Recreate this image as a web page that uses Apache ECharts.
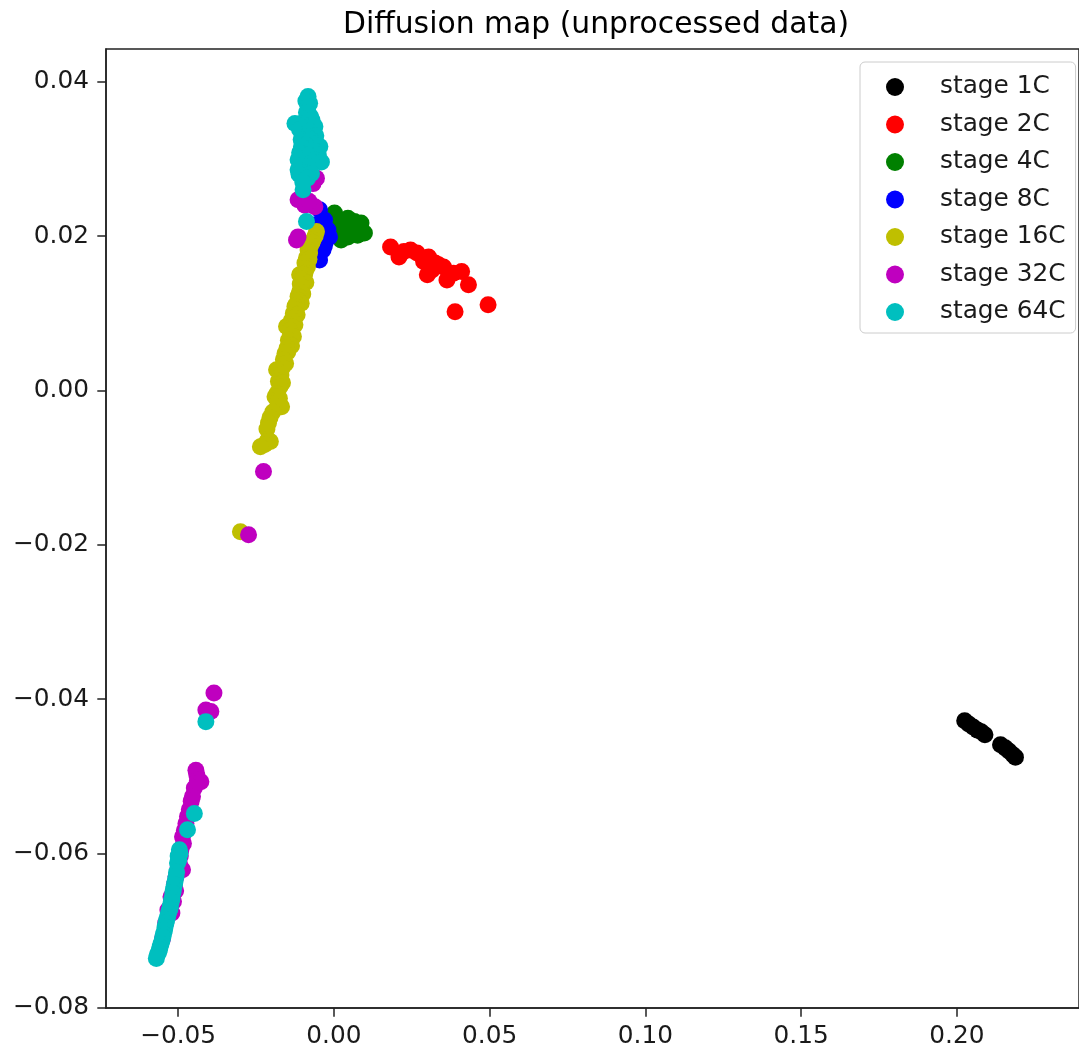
<!DOCTYPE html>
<html>
<head>
<meta charset="utf-8">
<script src="https://cdn.jsdelivr.net/npm/echarts@6/dist/echarts.min.js"></script>
<style>html,body{margin:0;padding:0;background:#fff}#chart{width:1079px;height:1051px}</style>
</head>
<body>
<div id="chart"></div>
<script>
const seriesNames = ['stage 1C','stage 2C','stage 4C','stage 8C','stage 16C','stage 32C','stage 64C'];
const seriesColors = ['#000000','#ff0000','#008000','#0000ff','#bfbf00','#bf00bf','#00bfbf'];
const xTicks = [-0.05, 0.00, 0.05, 0.10, 0.15, 0.20];
const yTicks = [-0.08, -0.06, -0.04, -0.02, 0.00, 0.02, 0.04];

const stage1C = [[0.2025,-0.0428],[0.2038,-0.0432],[0.2052,-0.0436],[0.2066,-0.0440],[0.2078,-0.0442],[0.2090,-0.0446],[0.2140,-0.0459],[0.2155,-0.0463],[0.2167,-0.0467],[0.2180,-0.0472],[0.2188,-0.0475]];
const stage2C = [[0.0182,0.0186],[0.0209,0.0173],[0.0225,0.0180],[0.0246,0.0182],[0.0267,0.0178],[0.0288,0.0167],[0.0304,0.0173],[0.0315,0.0156],[0.0325,0.0165],[0.0336,0.0163],[0.0352,0.0160],[0.0363,0.0143],[0.0384,0.0152],[0.0410,0.0154],[0.0432,0.0137],[0.0389,0.0102],[0.0495,0.0111],[0.0300,0.0150]];
const stage4C = [[0.0002,0.0230],[0.0023,0.0221],[0.0045,0.0223],[0.0066,0.0219],[0.0087,0.0217],[0.0098,0.0204],[0.0076,0.0201],[0.0045,0.0199],[0.0023,0.0195],[0.0013,0.0208],[0.0055,0.0210],[-0.0003,0.0217],[0.0034,0.0212]];
const stage8C = [[-0.0046,0.0234],[-0.0030,0.0221],[-0.0019,0.0208],[-0.0024,0.0195],[-0.0035,0.0182],[-0.0046,0.0169],[-0.0051,0.0178],[-0.0040,0.0204],[-0.0014,0.0199],[-0.0061,0.0195],[-0.0055,0.0215],[-0.0030,0.0188]];
const stage16C = [[-0.0056,0.0206],[-0.0060,0.0200],[-0.0067,0.0195],[-0.0070,0.0192],[-0.0075,0.0188],[-0.0083,0.0182],[-0.0078,0.0178],[-0.0088,0.0172],[-0.0080,0.0170],[-0.0093,0.0165],[-0.0085,0.0160],[-0.0090,0.0158],[-0.0093,0.0152],[-0.0110,0.0150],[-0.0097,0.0150],[-0.0100,0.0145],[-0.0104,0.0143],[-0.0090,0.0140],[-0.0108,0.0138],[-0.0104,0.0135],[-0.0110,0.0128],[-0.0100,0.0125],[-0.0115,0.0122],[-0.0112,0.0120],[-0.0115,0.0117],[-0.0105,0.0113],[-0.0120,0.0112],[-0.0125,0.0109],[-0.0122,0.0105],[-0.0130,0.0100],[-0.0118,0.0098],[-0.0128,0.0094],[-0.0136,0.0091],[-0.0125,0.0085],[-0.0152,0.0083],[-0.0133,0.0082],[-0.0141,0.0078],[-0.0138,0.0072],[-0.0130,0.0070],[-0.0146,0.0065],[-0.0143,0.0060],[-0.0136,0.0058],[-0.0150,0.0055],[-0.0148,0.0050],[-0.0157,0.0048],[-0.0162,0.0040],[-0.0155,0.0035],[-0.0165,0.0030],[-0.0184,0.0027],[-0.0170,0.0020],[-0.0178,0.0012],[-0.0165,0.0010],[-0.0173,0.0005],[-0.0183,-0.0004],[-0.0189,-0.0008],[-0.0175,-0.0010],[-0.0180,-0.0015],[-0.0168,-0.0021],[-0.0196,-0.0028],[-0.0205,-0.0035],[-0.0210,-0.0042],[-0.0215,-0.0050],[-0.0212,-0.0064],[-0.0204,-0.0066],[-0.0222,-0.0070],[-0.0236,-0.0073],[-0.0300,-0.0183]];
const stage32C = [[-0.0115,0.0199],[-0.0120,0.0195],[-0.0093,0.0240],[-0.0061,0.0238],[-0.0056,0.0275],[-0.0067,0.0268],[-0.0115,0.0247],[-0.0080,0.0245],[-0.0226,-0.0105],[-0.0274,-0.0187],[-0.0385,-0.0392],[-0.0395,-0.0416],[-0.0411,-0.0414],[-0.0443,-0.0492],[-0.0440,-0.0498],[-0.0438,-0.0505],[-0.0427,-0.0507],[-0.0448,-0.0515],[-0.0454,-0.0526],[-0.0458,-0.0532],[-0.0464,-0.0543],[-0.0470,-0.0552],[-0.0475,-0.0561],[-0.0480,-0.0570],[-0.0486,-0.0578],[-0.0483,-0.0587],[-0.0491,-0.0595],[-0.0493,-0.0603],[-0.0496,-0.0612],[-0.0500,-0.0618],[-0.0486,-0.0621],[-0.0507,-0.0630],[-0.0512,-0.0640],[-0.0508,-0.0648],[-0.0523,-0.0656],[-0.0515,-0.0662],[-0.0533,-0.0673],[-0.0520,-0.0677],[-0.0540,-0.0690],[-0.0550,-0.0710]];
const stage64C = [[-0.0083,0.0381],[-0.0090,0.0375],[-0.0078,0.0372],[-0.0083,0.0368],[-0.0088,0.0360],[-0.0075,0.0355],[-0.0070,0.0350],[-0.0104,0.0346],[-0.0125,0.0346],[-0.0061,0.0342],[-0.0095,0.0340],[-0.0110,0.0338],[-0.0080,0.0336],[-0.0058,0.0330],[-0.0088,0.0329],[-0.0105,0.0325],[-0.0075,0.0325],[-0.0070,0.0320],[-0.0090,0.0318],[-0.0045,0.0316],[-0.0104,0.0316],[-0.0060,0.0310],[-0.0110,0.0308],[-0.0095,0.0305],[-0.0080,0.0305],[-0.0050,0.0305],[-0.0115,0.0299],[-0.0061,0.0299],[-0.0040,0.0296],[-0.0070,0.0295],[-0.0100,0.0292],[-0.0083,0.0290],[-0.0115,0.0286],[-0.0090,0.0282],[-0.0072,0.0281],[-0.0112,0.0280],[-0.0085,0.0275],[-0.0100,0.0270],[-0.0099,0.0260],[-0.0088,0.0219],[-0.0411,-0.0429],[-0.0448,-0.0548],[-0.0470,-0.0569],[-0.0496,-0.0595],[-0.0494,-0.0600],[-0.0500,-0.0603],[-0.0498,-0.0608],[-0.0502,-0.0612],[-0.0505,-0.0624],[-0.0507,-0.0630],[-0.0510,-0.0636],[-0.0512,-0.0640],[-0.0515,-0.0646],[-0.0517,-0.0651],[-0.0520,-0.0658],[-0.0522,-0.0662],[-0.0525,-0.0668],[-0.0526,-0.0671],[-0.0528,-0.0673],[-0.0531,-0.0677],[-0.0534,-0.0682],[-0.0537,-0.0686],[-0.0539,-0.0690],[-0.0542,-0.0695],[-0.0544,-0.0700],[-0.0547,-0.0704],[-0.0549,-0.0708],[-0.0552,-0.0713],[-0.0555,-0.0717],[-0.0558,-0.0721],[-0.0560,-0.0725],[-0.0563,-0.0728],[-0.0567,-0.0731],[-0.0570,-0.0736]];
const allData = [stage1C, stage2C, stage4C, stage8C, stage16C, stage32C, stage64C];

const FONT = 'DejaVu Sans';
const fmt = v => (v < -1e-9 ? '\u2212' : '') + Math.abs(v).toFixed(2);

const chart = echarts.init(document.getElementById('chart'), null, {renderer: 'canvas'});
chart.setOption({
  animation: false,
  backgroundColor: '#ffffff',
  graphic: [{
    type: 'text', x: 596, y: 25,
    style: {text: 'Diffusion map (unprocessed data)', fill: '#000', font: '29.8px "DejaVu Sans"', align: 'center', verticalAlign: 'middle'}
  }],
  grid: {left: 106, top: 49, right: -9, bottom: 43, show: true, borderColor: '#222', borderWidth: 1.5, backgroundColor: 'transparent'},
  xAxis: {
    type: 'value', min: -0.07316, max: 0.2392,
    splitLine: {show: false},
    axisLine: {show: true, onZero: false, lineStyle: {color: '#222', width: 1.5}},
    axisTick: {show: true, length: 8.7, customValues: xTicks, lineStyle: {color: '#222', width: 1.5}},
    axisLabel: {customValues: xTicks, formatter: fmt, margin: 16, color: '#1a1a1a', fontFamily: FONT, fontSize: 24.8}
  },
  yAxis: {
    type: 'value', min: -0.08, max: 0.04424,
    splitLine: {show: false},
    axisLine: {show: true, onZero: false, lineStyle: {color: '#222', width: 1.5}},
    axisTick: {show: true, length: 8.7, customValues: yTicks, lineStyle: {color: '#222', width: 1.5}},
    axisLabel: {customValues: yTicks, formatter: fmt, margin: 17, color: '#1a1a1a', fontFamily: FONT, fontSize: 24.8}
  },
  legend: {
    orient: 'vertical', left: 860, top: 62,
    padding: [12.5, 10, 8.5, 26],
    itemGap: 12.5, itemWidth: 18, itemHeight: 18, icon: 'circle',
    backgroundColor: 'rgba(255,255,255,0.8)', borderColor: '#cccccc', borderWidth: 1, borderRadius: 5,
    textStyle: {fontFamily: FONT, fontSize: 24.8, color: '#1a1a1a', lineHeight: 25, padding: [0, 0, 0, 31]},
    data: seriesNames
  },
  series: seriesNames.map((n, i) => ({
    name: n, type: 'scatter', data: allData[i], symbol: 'circle', symbolSize: 17,
    itemStyle: {color: seriesColors[i], opacity: 1}, emphasis: {disabled: true}
  }))
});
</script>
</body>
</html>
